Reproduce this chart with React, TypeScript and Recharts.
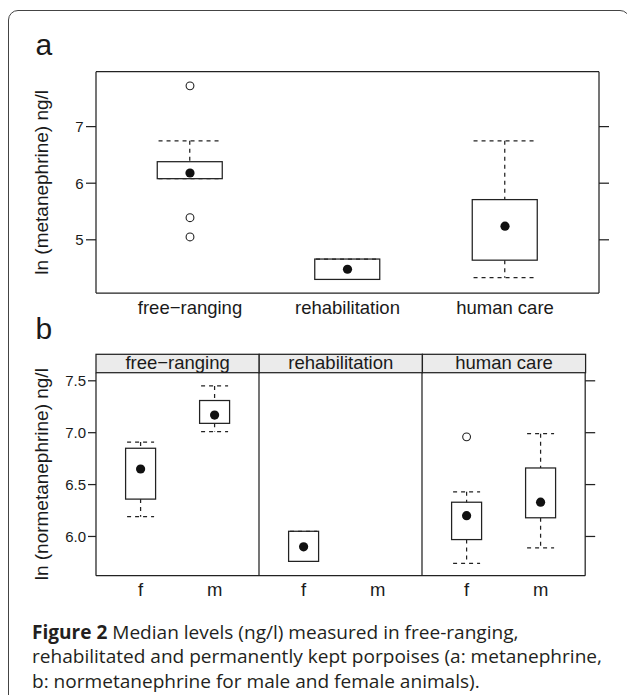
import React, { useLayoutEffect, useRef, useState } from "react";
import { ComposedChart, Bar, Scatter, XAxis, YAxis, Label } from "recharts";

// panel a: ln (metanephrine) per group
const metGroups = ["free−ranging", "rehabilitation", "human care"];
const metLow = [6.08, 4.3, 4.33];
const metQ1 = [6.08, 4.3, 4.64];
const metMedian = [6.18, 4.48, 5.24];
const metQ3 = [6.38, 4.66, 5.71];
const metHigh = [6.75, 4.66, 6.75];
const metOutliers = [[7.72, 5.39, 5.05], [], []];
const metTicks = [5, 6, 7];
const metDomain = [4.06, 7.97];

// panel b: ln (normetanephrine) by sex, one facet per group
const sexes = ["f", "m"];
const normGroups = ["free−ranging", "rehabilitation", "human care"];
const normLow = [[6.19, 7.01], [5.76, null], [5.74, 5.89]];
const normQ1 = [[6.36, 7.09], [5.76, null], [5.97, 6.18]];
const normMedian = [[6.65, 7.17], [5.9, null], [6.2, 6.33]];
const normQ3 = [[6.85, 7.31], [6.05, null], [6.33, 6.66]];
const normHigh = [[6.91, 7.45], [6.05, null], [6.43, 6.99]];
const normOutliers = [[[], []], [[], []], [[6.96], []]];
const normTicks = [6.0, 6.5, 7.0, 7.5];
const normDomain = [5.622, 7.578];

const captionLines = [
    "Median levels (ng/l) measured in free-ranging,",
    "rehabilitated and permanently kept porpoises (a: metanephrine,",
    "b: normetanephrine for male and female animals).",
];

const INK = "#222";
const FONT = "'Liberation Sans', Arial, sans-serif";
const line = { stroke: INK, strokeWidth: 1.25 };

function boxRow(cat: string, low: any, q1: any, med: any, q3: any, high: any, outs: number[]) {
    const ok = med != null;
    return {
        cat,
        med: ok ? med : null,
        base: ok ? low : null,
        lower: ok ? q1 - low : null,
        box: ok ? q3 - q1 : null,
        upper: ok ? high - q3 : null,
        o1: outs[0] ?? null,
        o2: outs[1] ?? null,
        o3: outs[2] ?? null,
    };
}

const hidden = () => <g />;

const boxShape = (p: any) =>
    p.payload?.med == null ? <g /> : (
        <rect x={p.x} y={p.y} width={p.width} height={p.height} fill="#fff" {...line} />
    );

// whisker: dashed stem from the box edge, dashed cap at the far end
const whiskerShape = (atTop: boolean, capRatio: number) => (p: any) => {
    if (p.payload?.med == null) return <g />;
    const cx = p.x + p.width / 2;
    const capY = atTop ? p.y : p.y + p.height;
    const half = (p.width * capRatio) / 2;
    return (
        <g stroke={INK} strokeWidth={1.25} strokeDasharray="4 4">
            <line x1={cx} x2={cx} y1={p.y} y2={p.y + p.height} />
            <line x1={cx - half} x2={cx + half} y1={capY} y2={capY} />
        </g>
    );
};

const medianDot = (p: any) =>
    p.payload?.med == null ? <g /> : <circle cx={p.cx} cy={p.cy} r={4.6} fill="#111" />;

const outlierDot = (key: string) => (p: any) =>
    p.payload?.[key] == null ? <g /> : (
        <circle cx={p.cx} cy={p.cy} r={3.9} fill="#fff" stroke={INK} strokeWidth={1.1} />
    );

const yTitle = (text: string) => (props: any) => {
    const vb = props.viewBox || { x: 0, y: 0, width: 0, height: 0 };
    const x = vb.x + 48;
    const y = vb.y + vb.height / 2;
    return (
        <text x={x} y={y} transform={`rotate(-90 ${x} ${y})`} textAnchor="middle"
            fontSize={19} fontFamily={FONT} fill="#1a1a1a">
            {text}
        </text>
    );
};

function boxSeries(barSize: number, capRatio: number) {
    return [
        <Bar key="base" dataKey="base" stackId="s" barSize={barSize} shape={hidden} isAnimationActive={false} />,
        <Bar key="lower" dataKey="lower" stackId="s" barSize={barSize} shape={whiskerShape(false, capRatio)} isAnimationActive={false} />,
        <Bar key="box" dataKey="box" stackId="s" barSize={barSize} shape={boxShape} isAnimationActive={false} />,
        <Bar key="upper" dataKey="upper" stackId="s" barSize={barSize} shape={whiskerShape(true, capRatio)} isAnimationActive={false} />,
        <Scatter key="med" dataKey="med" shape={medianDot} isAnimationActive={false} />,
        <Scatter key="o1" dataKey="o1" shape={outlierDot("o1")} isAnimationActive={false} />,
        <Scatter key="o2" dataKey="o2" shape={outlierDot("o2")} isAnimationActive={false} />,
        <Scatter key="o3" dataKey="o3" shape={outlierDot("o3")} isAnimationActive={false} />,
    ];
}

function PanelA() {
    const rows = metGroups.map((g, i) =>
        boxRow(g, metLow[i], metQ1[i], metMedian[i], metQ3[i], metHigh[i], metOutliers[i])
    );
    return (
        <div style={{ position: "absolute", left: 0, top: 0 }}>
            <ComposedChart width={627} height={340} data={rows}
                margin={{ top: 70.7, right: 0, bottom: 7, left: 0 }}>
                <XAxis dataKey="cat" type="category" interval={0} height={40}
                    padding={{ left: 15.25, right: 15.25 }}
                    tickLine={false} tickSize={5} tickMargin={2.5} axisLine={line}
                    tick={{ fontSize: 18.5, fontFamily: FONT, fill: "#1a1a1a" }} />
                <XAxis xAxisId="top" orientation="top" type="number" domain={[0, 1]}
                    allowDataOverflow height={1} tick={false} tickLine={false} axisLine={line} />
                <YAxis type="number" domain={metDomain} allowDataOverflow ticks={metTicks}
                    width={96} tickSize={10} tickMargin={2.5} axisLine={line} tickLine={line}
                    tick={{ fontSize: 15, fontFamily: FONT, fill: "#1a1a1a" }}>
                    <Label content={yTitle("ln (metanephrine) ng/l")} />
                </YAxis>
                <YAxis yAxisId="r" orientation="right" type="number" domain={metDomain}
                    allowDataOverflow ticks={metTicks} width={28} tickSize={10}
                    axisLine={line} tickLine={line} tick={hidden} />
                {boxSeries(65, 0.96)}
            </ComposedChart>
        </div>
    );
}

const PANEL_W = 163.2;
const PANEL_X0 = 96;

function Facet({ gi }: { gi: number }) {
    const rows = sexes.map((s, si) =>
        boxRow(s, normLow[gi][si], normQ1[gi][si], normMedian[gi][si], normQ3[gi][si],
            normHigh[gi][si], normOutliers[gi][si])
    );
    const first = gi === 0;
    const last = gi === normGroups.length - 1;
    const leftW = first ? 96 : 1;
    const rightW = last ? 12 : 0;
    const left = PANEL_X0 + gi * PANEL_W - leftW;
    return (
        <div style={{ position: "absolute", left, top: 360 }}>
            <ComposedChart width={leftW + PANEL_W + rightW} height={260} data={rows}
                margin={{ top: 12.7, right: 0, bottom: 14.3, left: 0 }}>
                <XAxis dataKey="cat" type="category" interval={0} height={30}
                    padding={{ left: 7.6, right: 7.6 }}
                    tickLine={false} tickSize={5} tickMargin={2.2} axisLine={line}
                    tick={{ fontSize: 18.5, fontFamily: FONT, fill: "#1a1a1a" }} />
                {first ? (
                    <YAxis type="number" domain={normDomain} allowDataOverflow ticks={normTicks}
                        width={96} tickSize={8} tickMargin={2} axisLine={line} tickLine={line}
                        tickFormatter={(v: number) => v.toFixed(1)}
                        tick={{ fontSize: 15, fontFamily: FONT, fill: "#1a1a1a" }}>
                        <Label content={yTitle("ln (normetanephrine) ng/l")} />
                    </YAxis>
                ) : (
                    <YAxis type="number" domain={normDomain} allowDataOverflow ticks={normTicks}
                        width={1} tick={false} tickLine={false} axisLine={line} />
                )}
                {last && (
                    <YAxis yAxisId="r" orientation="right" type="number" domain={normDomain}
                        allowDataOverflow ticks={normTicks} width={rightW} tickSize={10}
                        axisLine={line} tickLine={line} tick={hidden} />
                )}
                {boxSeries(30, 0.9)}
            </ComposedChart>
        </div>
    );
}

// caption lines share one horizontal squeeze, fitted so the longest line ends near x=602
function Caption() {
    const longest = useRef<SVGTextElement>(null);
    const [k, setK] = useState(0.93);
    useLayoutEffect(() => {
        const w = longest.current?.getComputedTextLength() ?? 0;
        if (w > 0) setK(570 / w);
    }, []);
    return (
        <g transform={`translate(32 0) scale(${k} 1)`} fontFamily="'Open Sans', sans-serif"
            fontSize={19} fill="#231f20">
            <text x={0} y={639}>
                <tspan fontWeight={700}>Figure 2</tspan> {captionLines[0]}
            </text>
            <text ref={longest} x={0} y={663.5}>{captionLines[1]}</text>
            <text x={0} y={688}>{captionLines[2]}</text>
        </g>
    );
}

function Overlay() {
    const stripTop = 354.3;
    const stripH = 18.4;
    return (
        <svg width={627} height={695} style={{ position: "absolute", left: 0, top: 0, pointerEvents: "none" }}>
            <text x={35.5} y={55} fontSize={30} fontFamily={FONT} fill="#1a1a1a">a</text>
            <text x={35.5} y={339} fontSize={30} fontFamily={FONT} fill="#1a1a1a">b</text>
            {normGroups.map((g, i) => {
                const x = PANEL_X0 + i * PANEL_W;
                return (
                    <g key={g}>
                        <rect x={x} y={stripTop} width={PANEL_W} height={stripH} fill="#ebebeb" {...line} />
                        <text x={x + PANEL_W / 2} y={369} textAnchor="middle" fontSize={18.5}
                            fontFamily={FONT} fill="#1a1a1a">{g}</text>
                    </g>
                );
            })}
            <Caption />
        </svg>
    );
}

export default function App() {
    return (
        <div style={{ position: "absolute", left: 0, top: 0, width: 627, height: 695, overflow: "hidden", background: "#fff" }}>
            <div style={{
                position: "absolute", left: 8, top: 10, width: 622, height: 720,
                border: "1.5px solid #444", borderRadius: 10, boxSizing: "border-box",
            }} />
            <PanelA />
            {normGroups.map((g, i) => <Facet key={g} gi={i} />)}
            <Overlay />
        </div>
    );
}
